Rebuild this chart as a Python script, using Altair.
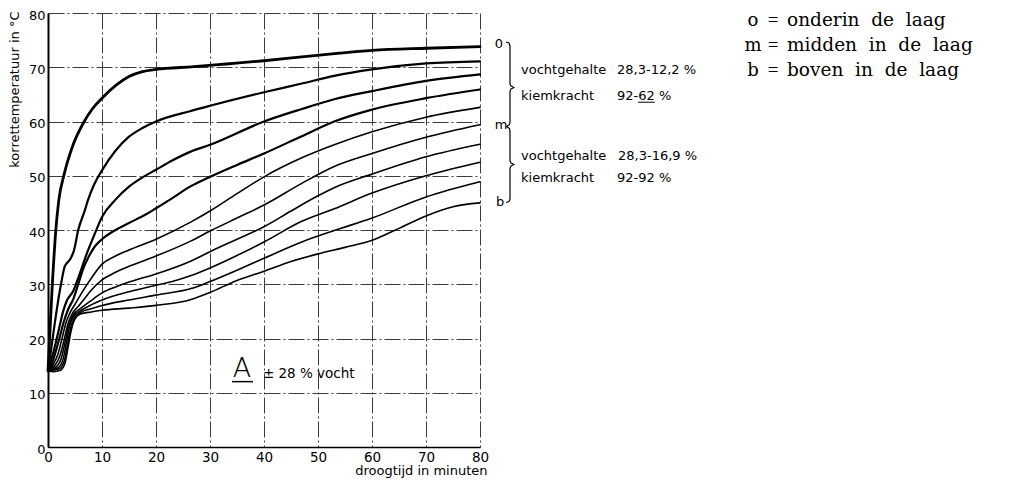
import altair as alt
import pandas as pd

# ---------------- data ----------------
series_names = ["L1", "L2", "L3", "L4", "L5", "L6", "L7", "L8", "L9", "L10"]

L1_t = [0, 0.25, 0.5, 0.8, 1.1, 1.4, 2.0, 3.0, 4.5, 6.7, 8.2, 10, 12.5, 15, 17.5, 20, 27, 33, 40, 47, 54, 60, 70, 80]
L1_c = [14, 19, 24, 30, 35, 39.4, 45.5, 50.3, 55.3, 60, 62.3, 64.3, 66.6, 68.3, 69.2, 69.6, 70.1, 70.6, 71.2, 71.9, 72.6, 73.1, 73.5, 73.8]

L2_t = [0, 0.5, 1.0, 1.5, 1.9, 2.5, 3.1, 4.1, 4.8, 5.6, 6.85, 7.4, 8.5, 10, 12.5, 15, 17.5, 20, 26.3, 30, 40, 47, 53, 60, 70, 80]
L2_c = [14.5, 17.5, 21, 24.5, 27.1, 30.5, 33.3, 34.6, 36.2, 40, 43.7, 45.5, 48.3, 51, 54.6, 57.2, 58.8, 60, 61.9, 62.9, 65.4, 67, 68.4, 69.6, 70.7, 71.1]

L3_t = [0, 0.5, 1.0, 1.5, 2.2, 2.8, 3.5, 4.7, 5.9, 7.2, 8.7, 10, 12.5, 15, 17.5, 20, 23, 26.3, 30, 40, 47, 53, 60, 70, 80]
L3_c = [14.8, 15.8, 17.5, 19.5, 22.5, 25, 27, 28.8, 32, 35.7, 39.4, 42.4, 45.6, 48, 49.7, 51.1, 52.8, 54.4, 55.7, 60, 62.3, 64.1, 65.6, 67.5, 68.7]

L4_t = [0, 0.8, 1.4, 2.1, 2.9, 3.7, 4.7, 5.6, 6.5, 7.5, 8.7, 10, 12.5, 15, 18, 20, 22.6, 26.3, 30, 35, 40, 47, 53, 60, 70, 80]
L4_c = [14.6, 15.6, 17.5, 20, 23, 25.3, 27.3, 30, 32.8, 35, 37, 38.3, 40, 41.3, 42.8, 44, 45.6, 48, 49.8, 52, 54.1, 57.3, 60, 62.2, 64.3, 65.9]

L5_t = [0, 1, 1.8, 2.6, 3.3, 4.1, 5, 6, 7, 8.5, 10, 12.5, 15, 20, 26.5, 30, 35, 40, 47, 53, 60, 70, 80]
L5_c = [14.5, 15.3, 17, 20, 22.8, 24.8, 26.3, 28, 29.6, 31.8, 33.7, 35.2, 36.3, 38.3, 41.5, 43.5, 46.7, 49.8, 53.3, 55.7, 58.1, 60.8, 62.6]

L6_t = [0, 1.2, 2.2, 3, 3.7, 4.5, 5.5, 6.5, 8, 10, 12.5, 15, 20, 26.5, 30, 35, 40, 47, 53, 60, 70, 80]
L6_c = [14.4, 15, 16.8, 19.8, 22.7, 24.6, 25.8, 27, 28.9, 30.8, 32.2, 33.3, 35.2, 38, 39.8, 42.2, 44.6, 48.6, 51.7, 54.1, 57.1, 59.4]

L7_t = [0, 1.5, 2.5, 3.2, 3.9, 4.7, 6, 8, 10, 12.5, 15, 20, 26.5, 30, 35, 40, 45, 50, 53, 60, 70, 80]
L7_c = [14.3, 14.8, 16.5, 19.5, 22.6, 24.4, 25.5, 27, 28.4, 29.5, 30.4, 31.9, 34.3, 36, 38.3, 40.6, 43.5, 46.3, 47.8, 50.3, 53.5, 55.8]

L8_t = [0, 1.8, 2.8, 3.4, 4, 4.8, 6, 8, 10, 15, 20, 23, 26.5, 30, 35, 40, 47, 53, 60, 70, 80]
L8_c = [14.2, 14.6, 16.2, 19.2, 22.3, 24.2, 25.1, 26.2, 27.1, 28.6, 29.8, 30.5, 31.6, 33, 35.3, 37.8, 41.6, 43.9, 46.8, 50, 52.5]

L9_t = [0, 2, 3, 3.6, 4.2, 5, 6, 8, 10, 15, 20, 26.5, 30, 35, 40, 47, 53, 60, 70, 80]
L9_c = [14.1, 14.4, 15.8, 18.8, 22, 24, 24.8, 25.5, 26.1, 27.1, 28, 29.2, 30.5, 32.6, 34.8, 37.8, 39.9, 42.2, 46.1, 48.9]

L10_t = [0, 1, 2.2, 3.1, 3.7, 4.3, 5, 6, 8, 10, 15, 20, 26.5, 30, 35, 40, 45, 50, 55, 60, 65, 70, 75, 80]
L10_c = [14, 13.9, 14.1, 15.3, 18.3, 21.5, 23.6, 24.5, 24.9, 25.2, 25.6, 26.1, 27.2, 28.5, 30.7, 32.4, 34.2, 35.6, 36.8, 38.1, 40.3, 42.6, 44.3, 45]

x_ticks = [0, 10, 20, 30, 40, 50, 60, 70, 80]
y_ticks = [0, 10, 20, 30, 40, 50, 60, 70, 80]

series_t = [L1_t, L2_t, L3_t, L4_t, L5_t, L6_t, L7_t, L8_t, L9_t, L10_t]
series_c = [L1_c, L2_c, L3_c, L4_c, L5_c, L6_c, L7_c, L8_c, L9_c, L10_c]
line_widths = [2.8, 2.2, 2.2, 2.2, 1.6, 1.6, 1.6, 1.6, 1.6, 1.6]

rows = []
for name, ts, cs, w in zip(series_names, series_t, series_c, line_widths):
    for i, (t, c) in enumerate(zip(ts, cs)):
        rows.append({"series": name, "t": t, "temp": c, "order": i, "w": w})
df = pd.DataFrame(rows)

# ---------------- layout helpers (plot is 432 x 434 px) ----------------
PW, PH = 432, 434


def px2t(rx):
    return rx / (PW / 80.0)


def py2c(ry):
    return 80.0 - ry / (PH / 80.0)


# brace shape (annotation geometry, plot-relative pixels)
brace_rx = [458, 461, 462, 462, 463, 466, 463, 462, 462, 461.5, 458.5, 461.5, 462, 462, 463, 466, 463, 462, 462, 461, 458]
brace_ry = [29, 30, 33, 71, 73, 74.5, 76, 78, 109, 111.5, 113.5, 115.5, 118, 148, 150, 151.5, 153, 155, 186, 188.5, 189.5]
brace_df = pd.DataFrame({"t": [px2t(v) for v in brace_rx],
                         "temp": [py2c(v) for v in brace_ry],
                         "order": list(range(len(brace_rx)))})

side_labels = ["0", "m", "b"]
side_rx = [451, 453, 452]
side_ry = [35, 116.3, 193]
side_df = pd.DataFrame({"t": [px2t(v) for v in side_rx], "temp": [py2c(v) for v in side_ry], "label": side_labels})

note_labels = ["vochtgehalte", "28,3-12,2 %", "kiemkracht", "92-62 %",
               "vochtgehalte", "28,3-16,9 %", "kiemkracht", "92-92 %"]
note_rx = [473, 569, 473, 569, 473, 570, 473, 569]
note_ry = [61, 61, 86.5, 86.5, 147, 147, 169, 169]
note_df = pd.DataFrame({"t": [px2t(v) for v in note_rx], "temp": [py2c(v) for v in note_ry], "label": note_labels})

# underline under "62"
ul_df = pd.DataFrame({"t": [px2t(590.2)], "t2": [px2t(606.8)], "temp": [py2c(89.2)]})

NB = "\u00a0"
legend_keys = ["o", "m", "b"]
legend_texts = ["onderin" + NB * 2 + "de" + NB * 2 + "laag",
                "midden" + NB * 2 + "in" + NB * 2 + "de" + NB * 2 + "laag",
                "boven" + NB * 2 + "in" + NB * 2 + "de" + NB * 2 + "laag"]
legend_ry = [12.5, 37.5, 62.5]
leg_key_df = pd.DataFrame({"t": [px2t(705)] * 3, "temp": [py2c(v) for v in legend_ry], "label": legend_keys})
leg_eq_df = pd.DataFrame({"t": [px2t(725)] * 3, "temp": [py2c(v) for v in legend_ry], "label": ["="] * 3})
leg_txt_df = pd.DataFrame({"t": [px2t(739)] * 3, "temp": [py2c(v) for v in legend_ry], "label": legend_texts})

# "A  ± 28 % vocht" inside the plot
a_df = pd.DataFrame({"t": [35.9], "temp": [12.9], "label": ["A"]})
a_ul_df = pd.DataFrame({"t": [34.07], "t2": [37.96], "temp": [12.05]})
vocht_df = pd.DataFrame({"t": [39.8], "temp": [12.66], "label": ["± 28 % vocht"]})

# ---------------- scales & axes ----------------
xs = alt.Scale(domain=[0, 80], nice=False, zero=False)
ys = alt.Scale(domain=[0, 80], nice=False, zero=False)
grid_dash = [16, 3, 2, 3]

x_axis = alt.Axis(values=x_ticks, grid=True, gridColor="#3c3c3c", gridDash=grid_dash, gridWidth=1,
                  ticks=False, labelPadding=3, labelFont="DejaVu Sans", labelFontSize=13.5,
                  labelColor="black", labelFlush=False, domainColor="black", domainWidth=1.5,
                  title="droogtijd in minuten", titleFont="DejaVu Sans", titleFontSize=13,
                  titleFontWeight="normal", titleColor="black", titleAlign="right",
                  titleBaseline="alphabetic", titleX=439, titleY=27.5)
y_axis = alt.Axis(values=y_ticks, grid=True, gridColor="#3c3c3c", gridDash=grid_dash, gridWidth=1,
                  ticks=False, labelPadding=3, labelOffset=2, labelFont="DejaVu Sans", labelFontSize=13,
                  labelColor="black", labelFlush=False, domainColor="black", domainWidth=2,
                  title="korrettemperatuur in °C", titleFont="DejaVu Sans", titleFontSize=13,
                  titleFontWeight="normal", titleColor="black", titleAngle=270,
                  titleAlign="right", titleBaseline="alphabetic", titleX=-30, titleY=-2)


def X(field="t"):
    return alt.X(f"{field}:Q", scale=xs, axis=x_axis)


def Y(field="temp"):
    return alt.Y(f"{field}:Q", scale=ys, axis=y_axis)


lines = alt.Chart(df).mark_line(interpolate="monotone", color="black", strokeCap="round",
                                strokeJoin="round").encode(
    x=X(), y=Y(), detail="series:N", order="order:Q",
    strokeWidth=alt.StrokeWidth("w:Q", scale=None, legend=None))

brace = alt.Chart(brace_df).mark_line(color="black", strokeWidth=1.2, strokeJoin="round").encode(
    x=X(), y=Y(), order="order:Q")

side = alt.Chart(side_df).mark_text(font="DejaVu Sans", fontSize=13, color="black", align="center",
                                    baseline="alphabetic").encode(x=X(), y=Y(), text="label:N")

notes = alt.Chart(note_df).mark_text(font="DejaVu Sans", fontSize=13, color="black", align="left",
                                     baseline="alphabetic").encode(x=X(), y=Y(), text="label:N")

ul = alt.Chart(ul_df).mark_rule(color="black", strokeWidth=1).encode(x=X(), x2="t2:Q", y=Y())

leg_key = alt.Chart(leg_key_df).mark_text(
    font="DejaVu Serif", fontSize=18, color="black", align="center", baseline="alphabetic"
).encode(x=X(), y=Y(), text="label:N")
leg_eq = alt.Chart(leg_eq_df).mark_text(
    font="Liberation Serif", fontSize=19, color="black", align="center", baseline="alphabetic"
).encode(x=X(), y=Y(), text="label:N")
leg_txt = alt.Chart(leg_txt_df).mark_text(
    font="DejaVu Serif", fontSize=18.5, color="black", align="left", baseline="alphabetic"
).encode(x=X(), y=Y(), text="label:N")

a_txt = alt.Chart(a_df).mark_text(font="DejaVu Sans", fontSize=27, fontWeight=300, color="black",
                                  align="center", baseline="alphabetic").encode(x=X(), y=Y(), text="label:N")
a_ul = alt.Chart(a_ul_df).mark_rule(color="black", strokeWidth=1.5).encode(x=X(), x2="t2:Q", y=Y())
vocht = alt.Chart(vocht_df).mark_text(font="DejaVu Sans", fontSize=13.5, color="black", align="left",
                                      baseline="alphabetic").encode(x=X(), y=Y(), text="label:N")

chart = alt.layer(lines, brace, side, notes, ul, leg_key, leg_eq, leg_txt, a_txt, a_ul, vocht).properties(
    width=PW, height=PH,
    autosize=alt.AutoSizeParams(type="none"),
    padding={"left": 40, "top": 5, "right": 524, "bottom": 31},
    background="white",
).configure_view(stroke=None)

chart.save("out.html", embed_options={"renderer": "svg", "actions": False})
